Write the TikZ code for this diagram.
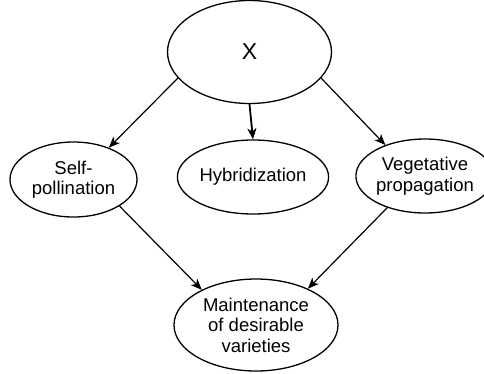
\documentclass[tikz,border=0pt]{standalone}
\usepackage{fontspec}
\setmainfont{Liberation Sans}
\usetikzlibrary{arrows.meta,shapes.geometric}
\begin{document}
\begin{tikzpicture}[x=1pt,y=-1pt,
  oval/.style={ellipse,draw,line width=1.3pt,inner sep=0pt,align=center,
    font=\fontsize{18.5}{20.5}\selectfont},
  conn/.style={line width=1.2pt,-{Stealth[length=11pt,width=9pt,inset=3pt]}}]
\useasboundingbox (0,0) rectangle (484,373);
\node[oval,minimum width=164pt,minimum height=103pt,font=\fontsize{23}{25}\selectfont] (x) at (249.5,52) {X};
\node[oval,minimum width=127pt,minimum height=75pt] (self) at (73.5,179.5) {Self-\\pollination};
\node[oval,minimum width=128pt,minimum height=74pt] (hyb) at (253,177) {Hybridization};
\node[oval,minimum width=118pt,minimum height=74pt] (veg) at (425,176) {Vegetative\\propagation};
\node[oval,minimum width=164pt,minimum height=92pt] (main) at (256,325) {Maintenance\\of desirable\\varieties};
\draw[conn] (x.{200}) -- (self.{42});
\draw[conn,line width=1.8pt] (x.south) -- (hyb.north);
\draw[conn] (x.{-20}) -- (veg.{142});
\draw[conn] (self.{-30}) -- (main.{147});
\draw[conn] (veg.{220}) -- (main.{35});
\end{tikzpicture}
\end{document}
